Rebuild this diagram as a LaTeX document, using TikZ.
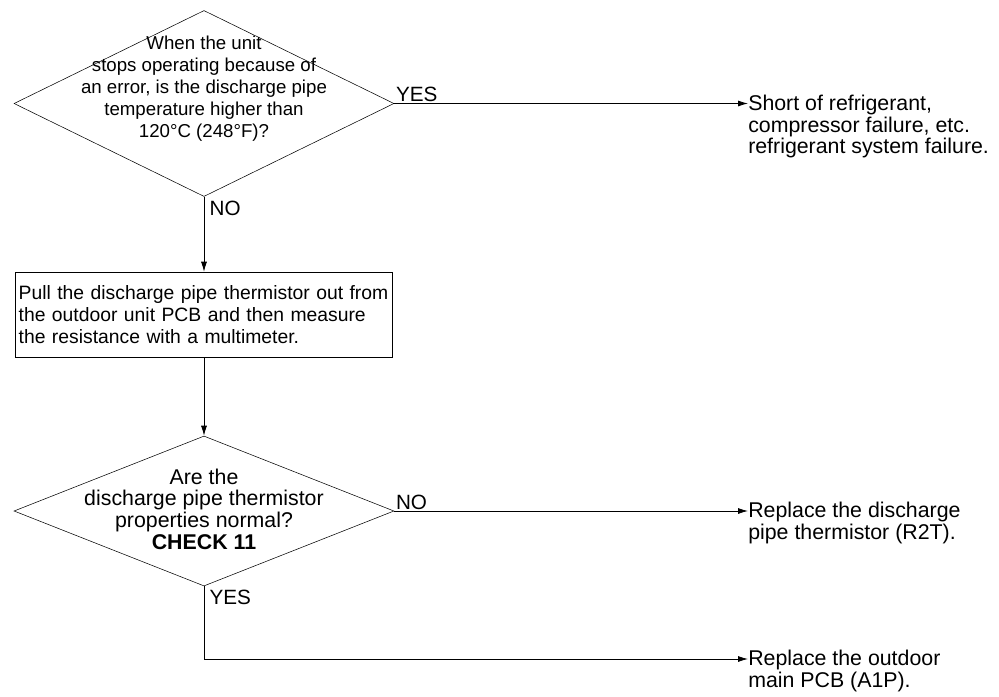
\documentclass[tikz,border=0pt]{standalone}
\usepackage{fontspec}
\setmainfont{Liberation Sans}
\newcommand{\fcfont}{\fontsize{14.5pt}{16.5pt}\selectfont}
\newcommand{\fcbigfont}{\fontsize{16pt}{16.2pt}\selectfont}
\usetikzlibrary{shapes.geometric,arrows.meta,positioning}

\begin{document}
\begin{tikzpicture}[x=0.75pt,y=-0.75pt,font=\fcfont,
  decision/.style={draw,diamond,inner sep=0pt,minimum width=285pt},
  action/.style={draw,rectangle,inner sep=2.5pt,text width=278pt,
    minimum height=63.75pt,align=left},
  result/.style={inner sep=0pt,anchor=north west,align=left,font=\fcbigfont},
  lbl/.style={inner sep=1pt,font=\fontsize{15.5pt}{16pt}\selectfont},
  flow/.style={-{Latex[length=7.5pt,width=4.5pt]},line width=0.6pt}]
\useasboundingbox (0,0) rectangle (999,696);
\node[decision,minimum height=139.5pt] (q1) at (204,103.5) {};
\node[align=center,font=\fontsize{14pt}{16.5pt}\selectfont] (q1text) at (204,89) {When the unit\\stops operating because of\\an error, is the discharge pipe\\temperature higher than\\120°C (248°F)?};
\node[action] (meas) at (204,314.5) {Pull the discharge pipe thermistor out from the outdoor unit PCB and then measure the resistance with a multimeter.};
\node[decision,minimum height=112.5pt] (q2) at (204,511) {};
\node[align=center,font=\fcbigfont] (q2text) at (204,509) {Are the\\discharge pipe thermistor\\properties normal?\\\textbf{CHECK 11}};
\node[result] (r1) at (748,95) {Short of refrigerant,\\compressor failure, etc.\\refrigerant system failure.};
\node[result] (r2) at (748,502) {Replace the discharge\\pipe thermistor (R2T).};
\node[result] (r3) at (748,650) {Replace the outdoor\\main PCB (A1P).};
\coordinate (turn) at (204,659);
% arrows
\draw[flow] (q1.east) -- (q1.east -| r1.west)
  node[lbl,pos=0,anchor=south west] {YES};
\draw[flow] (q1.south) -- (meas.north)
  node[lbl,pos=0,anchor=north west,xshift=3pt,yshift=-2pt] {NO};
\draw[flow] (meas.south) -- (q2.north);
\draw[flow] (q2.east) -- (q2.east -| r2.west)
  node[lbl,pos=0,anchor=south west] {NO};
\draw[flow] (q2.south) -- (turn) -- (turn -| r3.west);
\node[lbl,anchor=north west,xshift=3pt,yshift=-2pt] at (q2.south) {YES};
\end{tikzpicture}
\end{document}
